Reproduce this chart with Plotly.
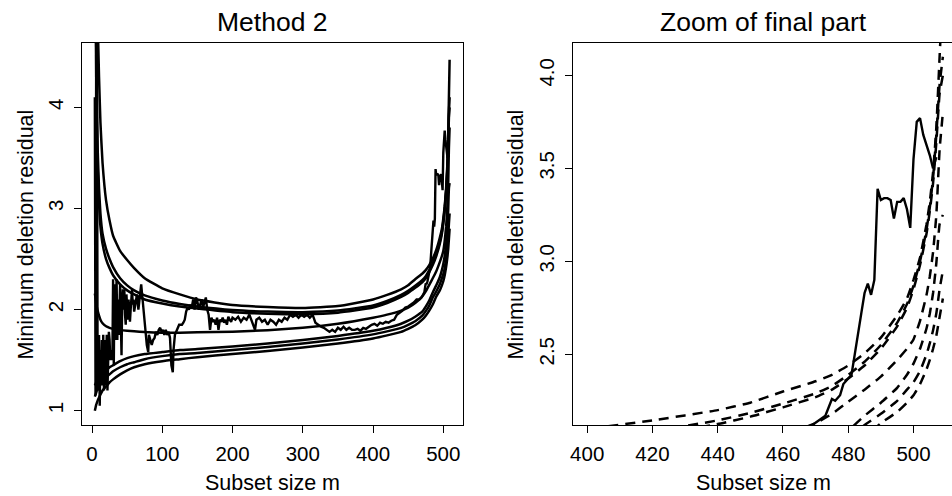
import plotly.graph_objects as go

# ---------------- data ----------------
env_m = [4, 5, 6, 7, 8, 10, 12, 15, 20, 25, 30, 40, 50, 60, 75, 100, 125, 150, 200, 250,
         300, 350, 400, 420, 440, 450, 460, 470, 475, 480, 485, 490, 495, 498, 500, 502,
         504, 505, 506, 507, 508, 509]

env_u1 = [9.0, 7.5, 6.3, 5.5, 4.9, 4.3, 3.85, 3.45, 3.08, 2.88, 2.73, 2.58, 2.49, 2.41, 2.31, 2.21,
          2.15, 2.1, 2.045, 2.025, 2.015, 2.035, 2.10, 2.145, 2.2, 2.24, 2.3, 2.355, 2.39, 2.44,
          2.505, 2.59, 2.71, 2.8, 2.9, 3.02, 3.2, 3.32, 3.48, 3.72, 4.1, 4.47]
env_u2 = [7.0, 5.5, 4.6, 4.0, 3.6, 3.2, 2.95, 2.75, 2.6, 2.5, 2.42, 2.31, 2.24, 2.19, 2.14, 2.09,
          2.055, 2.03, 1.995, 1.98, 1.975, 1.99, 2.04, 2.085, 2.145, 2.185, 2.235, 2.29, 2.33, 2.39,
          2.46, 2.55, 2.67, 2.77, 2.87, 3.0, 3.17, 3.29, 3.45, 3.68, 3.95, 4.1]
env_u3 = [6.5, 5.1, 4.3, 3.75, 3.4, 3.05, 2.82, 2.65, 2.5, 2.41, 2.34, 2.25, 2.19, 2.15, 2.1, 2.06,
          2.03, 2.01, 1.975, 1.96, 1.955, 1.97, 2.02, 2.065, 2.125, 2.165, 2.215, 2.27, 2.31, 2.37,
          2.44, 2.53, 2.65, 2.75, 2.85, 2.98, 3.15, 3.27, 3.42, 3.64, 3.9, 4.0]
env_mid = [2.16, 2.12, 2.06, 2.02, 1.99, 1.94, 1.9, 1.865, 1.835, 1.82, 1.81, 1.797, 1.79, 1.785,
           1.778, 1.772, 1.772, 1.775, 1.782, 1.797, 1.82, 1.86, 1.92, 1.95, 1.99, 2.02, 2.065,
           2.13, 2.18, 2.245, 2.31, 2.38, 2.47, 2.53, 2.58, 2.68, 2.82, 2.92, 3.05, 3.25, 3.6, 3.8]
env_l1 = [1.25, 1.265, 1.28, 1.29, 1.30, 1.32, 1.34, 1.37, 1.40, 1.43, 1.45, 1.49, 1.52, 1.54,
          1.56, 1.58, 1.6, 1.61, 1.635, 1.665, 1.70, 1.74, 1.79, 1.82, 1.86, 1.89, 1.93, 1.98,
          2.03, 2.09, 2.17, 2.24, 2.32, 2.39, 2.45, 2.53, 2.64, 2.72, 2.83, 2.99, 3.2, 3.25]
env_l2 = [1.14, 1.16, 1.18, 1.2, 1.21, 1.24, 1.26, 1.29, 1.33, 1.36, 1.39, 1.43, 1.46, 1.48,
          1.51, 1.54, 1.56, 1.57, 1.6, 1.63, 1.665, 1.705, 1.755, 1.785, 1.82, 1.85, 1.885, 1.94,
          1.985, 2.04, 2.12, 2.18, 2.25, 2.31, 2.35, 2.41, 2.5, 2.56, 2.63, 2.72, 2.85, 2.95]
env_l3 = [1.0, 1.03, 1.06, 1.08, 1.1, 1.13, 1.16, 1.2, 1.24, 1.28, 1.31, 1.36, 1.40, 1.43,
          1.46, 1.49, 1.51, 1.53, 1.56, 1.59, 1.625, 1.665, 1.715, 1.745, 1.78, 1.81, 1.845, 1.9,
          1.94, 1.99, 2.05, 2.13, 2.19, 2.24, 2.28, 2.34, 2.42, 2.47, 2.53, 2.6, 2.7, 2.8]

obs_m = [4, 5, 6, 7, 8, 9, 10, 11, 12, 13, 14, 15, 16, 17, 18, 19, 20, 21, 22, 23, 24, 25, 26,
         27, 28, 29, 30, 31, 32, 33, 34, 35, 36, 37, 38, 39, 40, 41, 42, 43, 44, 45, 46, 47, 48,
         49, 50, 51, 52, 53, 54, 55, 56, 57, 58, 59, 60, 62, 64, 66, 68, 70, 72, 74, 76, 78, 80,
         81, 83, 85, 87, 89, 91, 93, 95, 97, 99, 101, 103, 105, 107, 109, 111, 113, 115, 116, 118,
         120, 122, 124, 126, 128, 130, 132, 134, 136, 138, 140, 142, 144, 146, 148, 150, 152, 154,
         156, 158, 160, 162, 164, 166, 168, 170, 172, 174, 176, 178, 180, 182, 184, 186, 188, 190,
         192, 194, 196, 198, 200, 204, 208, 212, 216, 220, 224, 228, 232, 234, 238, 242, 246, 250,
         254, 258, 262, 266, 270, 274, 278, 282, 286, 290, 294, 298, 302, 306, 310, 314, 318, 322,
         326, 330, 334, 338, 342, 346, 350, 354, 358, 362, 366, 370, 374, 378, 382, 386, 390, 394,
         398, 402, 406, 410, 414, 418, 422, 426, 430, 434, 438, 442, 446, 450, 454, 458, 462, 466,
         469, 471, 473, 475, 476, 477.5, 478.5, 480, 481, 482, 483, 484, 485, 486, 487, 488, 489,
         490, 491, 492, 493, 494, 495, 496, 497, 498, 499, 500, 501, 502, 503, 504, 505, 506, 507]
obs_y = [4.1, 1.15, 4.8, 4.7, 1.2, 1.5, 1.75, 1.05, 1.6, 1.3, 1.7, 1.25, 1.75, 1.2, 1.7, 1.25, 1.6,
         1.75, 1.2, 1.5, 1.78, 1.7, 1.5, 1.55, 1.6, 1.5, 2.3, 1.45, 2.25, 1.7, 2.2, 2.3, 1.7, 2.1,
         1.75, 2.0, 2.25, 1.9, 1.55, 2.1, 2.2, 2.0, 2.2, 1.95, 1.85, 2.15, 1.95, 1.9, 2.1, 1.95,
         1.88, 2.0, 2.1, 2.2, 2.05, 2.1, 1.98, 2.05, 2.15, 2.0, 2.1, 2.25, 2.1, 1.95, 1.75, 1.65,
         1.58, 1.75, 1.7, 1.65, 1.7, 1.72, 1.78, 1.75, 1.8, 1.82, 1.78, 1.8, 1.75, 1.8, 1.75, 1.78,
         1.72, 1.45, 1.38, 1.6, 1.75, 1.78, 1.82, 1.85, 1.85, 1.85, 1.87, 1.9, 1.98, 2.02, 2.0,
         2.05, 2.02, 2.1, 2.0, 2.12, 2.08, 2.0, 2.05, 2.1, 2.02, 2.08, 2.12, 2.0, 1.95, 1.8, 1.92,
         1.88, 1.9, 1.85, 1.92, 1.8, 1.9, 1.88, 1.92, 1.87, 1.9, 1.85, 1.93, 1.9, 1.88, 1.92, 1.9,
         1.93, 1.88, 1.92, 1.9, 1.95, 1.88, 1.8, 1.9, 1.92, 1.88, 1.9, 1.85, 1.9, 1.88, 1.85, 1.9,
         1.88, 1.92, 1.9, 1.95, 1.93, 1.95, 1.92, 1.95, 1.93, 1.95, 1.92, 1.95, 1.87, 1.85, 1.83,
         1.82, 1.8, 1.78, 1.8, 1.78, 1.82, 1.8, 1.83, 1.8, 1.82, 1.8, 1.8, 1.81, 1.79, 1.82, 1.81,
         1.83, 1.85, 1.86, 1.84, 1.87, 1.86, 1.88, 1.87, 1.89, 1.9, 1.95, 1.97, 1.99, 2.02, 2.03,
         2.05, 2.07, 2.1, 2.1, 2.12, 2.147, 2.17, 2.26, 2.25, 2.28, 2.34, 2.37, 2.39, 2.5, 2.6,
         2.72, 2.83, 2.88, 2.82, 2.9, 3.39, 3.33, 3.34, 3.34, 3.33, 3.23, 3.32, 3.32, 3.34, 3.28,
         3.18, 3.55, 3.75, 3.77, 3.68, 3.63, 3.57, 3.5, 3.56]

left_xticks = [0, 100, 200, 300, 400, 500]
left_yticks = [1, 2, 3, 4]
right_xticks = [400, 420, 440, 460, 480, 500]
right_yticks = [2.5, 3.0, 3.5, 4.0]

envelopes = [env_u1, env_u2, env_u3, env_mid, env_l1, env_l2, env_l3]

# ---------------- figure ----------------
W, H = 952, 496
FONT = "Liberation Sans, Arial, Helvetica, sans-serif"
fig = go.Figure()

for env in envelopes:
    fig.add_trace(go.Scatter(x=env_m, y=env, mode="lines", xaxis="x", yaxis="y",
                             line=dict(color="black", width=2.5, shape="spline", smoothing=0.4),
                             hoverinfo="skip", showlegend=False))
fig.add_trace(go.Scatter(x=obs_m, y=obs_y, mode="lines", xaxis="x", yaxis="y",
                         line=dict(color="black", width=2.4), hoverinfo="skip", showlegend=False))

for env in envelopes:
    fig.add_trace(go.Scatter(x=env_m, y=env, mode="lines", xaxis="x2", yaxis="y2",
                             line=dict(color="black", width=2.5, dash="10px,7px",
                                       shape="spline", smoothing=0.4),
                             hoverinfo="skip", showlegend=False))
fig.add_trace(go.Scatter(x=obs_m, y=obs_y, mode="lines", xaxis="x2", yaxis="y2",
                         line=dict(color="black", width=2.4), hoverinfo="skip", showlegend=False))

ydom = [1 - 425 / H, 1 - 43 / H]
axis_common = dict(showgrid=False, zeroline=False, showline=True,
                   linecolor="black", linewidth=1, ticks="outside", ticklen=7,
                   tickcolor="black", tickwidth=1,
                   tickfont=dict(family=FONT, size=20.5, color="black"))

fig.update_layout(
    width=W, height=H,
    margin=dict(l=0, r=0, t=0, b=0),
    paper_bgcolor="white", plot_bgcolor="white",
    xaxis=dict(domain=[79 / W, 461.7 / W], range=[-14.6, 528.4], tickvals=left_xticks,
               ticklabelstandoff=3, anchor="y", mirror=True, **axis_common),
    yaxis=dict(domain=ydom, range=[0.859, 4.636], tickvals=left_yticks, tickangle=-90,
               ticklabelstandoff=3, anchor="x", mirror=True, **axis_common),
    xaxis2=dict(domain=[572.3 / W, 1.0], range=[395.8, 511.8], tickvals=right_xticks,
                ticklabelstandoff=3, anchor="y2", mirror=True, **axis_common),
    yaxis2=dict(domain=ydom, range=[2.120, 4.174], tickvals=right_yticks, tickangle=-90,
                tickformat=".1f", ticklabelstandoff=3, anchor="x2", mirror=False, **axis_common),
)

def ann(text, x, y, size, angle=0):
    fig.add_annotation(text=text, x=x / W, y=1 - y / H, xref="paper", yref="paper",
                       showarrow=False, xanchor="center", yanchor="middle", textangle=angle,
                       font=dict(family=FONT, size=size, color="black"))

ann("Method 2", 270.3, 22, 26.5)
ann("Zoom of final part", 763, 22, 26.5)
ann("Subset size m", 270.3, 483, 21.5)
ann("Subset size m", 763, 483, 21.5)
ann("Minimum deletion residual", 23.5, 234, 21.5, -90)
ann("Minimum deletion residual", 515, 234, 21.5, -90)

fig.write_html("out.html", config={"displayModeBar": False},
               post_script="document.body.style.margin='0';")
